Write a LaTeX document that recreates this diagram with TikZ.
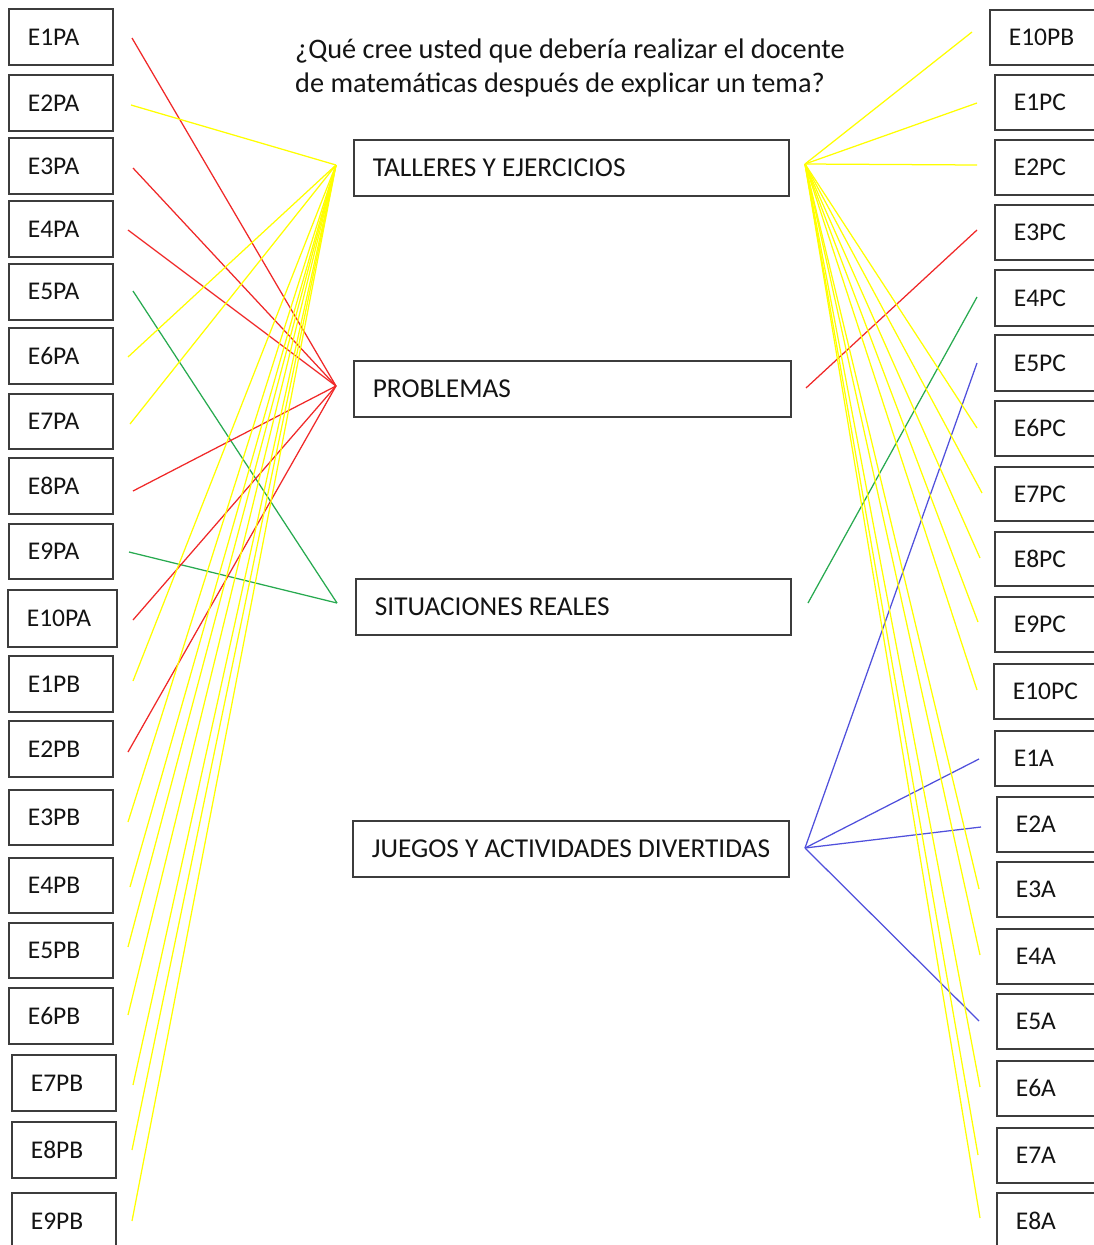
\documentclass[tikz,border=0pt]{standalone}
\usepackage{fontspec}
\setmainfont{Carlito}
\definecolor{ylw}{RGB}{255,255,0}
\definecolor{rd}{RGB}{240,40,40}
\definecolor{grn}{RGB}{40,170,80}
\definecolor{blu}{RGB}{80,80,220}
\definecolor{boxgray}{RGB}{60,60,60}
\definecolor{txt}{RGB}{20,20,20}
\begin{document}
\begin{tikzpicture}[x=1pt,y=-1pt,
  sbox/.style={draw=boxgray, line width=1.7pt, anchor=north west, inner xsep=19pt, inner ysep=0pt,
    font=\fontsize{25.5}{28}\selectfont, text=txt},
  cbox/.style={draw=boxgray, line width=1.7pt, anchor=north west, inner xsep=19pt, inner ysep=0pt,
    minimum height=56pt, font=\fontsize{27.3}{32}\selectfont, text=txt},
  ttl/.style={anchor=base west, inner sep=0pt, font=\fontsize{28.3}{34}\selectfont, text=txt},
  conn/.style={line width=1.25pt}]
\useasboundingbox (0,0) rectangle (1094,1245);
\fill[white] (0,0) rectangle (1094,1245);
\clip (0,0) rectangle (1094,1245);

% title
\node[ttl] (title1) at (295,58) {¿Qué cree usted que debería realizar el docente};
\node[ttl] (title2) at (295,92) {de matemáticas después de explicar un tema?};

% central boxes
\node[cbox] (T) at (353,139) {\makebox[397pt][l]{TALLERES Y EJERCICIOS}};
\node[cbox] (P) at (353,360) {\makebox[399pt][l]{PROBLEMAS}};
\node[cbox] (S) at (355,578) {\makebox[397pt][l]{SITUACIONES REALES}};
\node[cbox] (J) at (352,820) {\makebox[398pt][l]{JUEGOS Y ACTIVIDADES DIVERTIDAS}};

% hubs
\coordinate (hTL) at (336,165);
\coordinate (hPL) at (336,386);
\coordinate (hSL) at (337,603);
\coordinate (hTR) at (805,164);
\coordinate (hPR) at (806,388);
\coordinate (hSR) at (808,603);
\coordinate (hJR) at (805,848);

% left column
\foreach \n/\x/\t/\w/\h/\ex/\ey/\c/\hub in {
  E1PA/8/8/104/56/132/38/rd/hPL,
  E2PA/8/74/104/56/131/105/ylw/hTL,
  E3PA/8/137/104/56/133/168/rd/hPL,
  E4PA/8/200/104/56/128/230/rd/hPL,
  E5PA/8/263/104/56/133/291/grn/hSL,
  E6PA/8/327/104/56/128/357/ylw/hTL,
  E7PA/8/393/104/55/130/424/ylw/hTL,
  E8PA/8/457/104/56/133/491/rd/hPL,
  E9PA/8/523/104/55/129/552/grn/hSL,
  E10PA/7/589/109/57/133/620/rd/hPL,
  E1PB/8/655/104/56/133/681/ylw/hTL,
  E2PB/8/720/104/56/128/752/rd/hPL,
  E3PB/8/789/104/55/128/822/ylw/hTL,
  E4PB/8/857/104/55/130/887/ylw/hTL,
  E5PB/8/922/104/55/128/947/ylw/hTL,
  E6PB/8/987/104/56/128/1015/ylw/hTL,
  E7PB/11/1054/104/56/133/1085/ylw/hTL,
  E8PB/11/1121/104/56/132/1150/ylw/hTL,
  E9PB/11/1192/104/56/132/1221/ylw/hTL}{
  \node[sbox, minimum height=\h pt] (\n) at (\x,\t) {\makebox[\dimexpr\w pt-38pt\relax][l]{\n}};
  \coordinate (\n-e) at (\ex,\ey);
  \draw[conn, \c] (\n-e) -- (\hub);
}

% right column
\foreach \n/\x/\t/\h/\ex/\ey/\c/\hub in {
  E10PB/989/9/55/972/32/ylw/hTR,
  E1PC/994/74/55/977/103/ylw/hTR,
  E2PC/994/139/55/977/165/ylw/hTR,
  E3PC/994/204/55/977/230/rd/hPR,
  E4PC/994/269/56/977/297/grn/hSR,
  E5PC/994/334/56/977/363/blu/hJR,
  E6PC/994/400/55/977/428/ylw/hTR,
  E7PC/994/466/54/982/493/ylw/hTR,
  E8PC/994/531/54/980/558/ylw/hTR,
  E9PC/994/596/55/978/622/ylw/hTR,
  E10PC/993/663/55/977/690/ylw/hTR,
  E1A/994/730/55/979/759/blu/hJR,
  E2A/996/796/55/981/827/blu/hJR,
  E3A/996/861/55/979/889/ylw/hTR,
  E4A/996/928/55/980/955/ylw/hTR,
  E5A/996/993/55/979/1021/blu/hJR,
  E6A/996/1060/55/980/1087/ylw/hTR,
  E7A/996/1127/55/978/1155/ylw/hTR,
  E8A/996/1192/56/980/1218/ylw/hTR}{
  \node[sbox, minimum height=\h pt] (\n) at (\x,\t) {\makebox[\dimexpr 1110pt-\x pt-38pt\relax][l]{\n}};
  \coordinate (\n-e) at (\ex,\ey);
  \draw[conn, \c] (\n-e) -- (\hub);
}
\end{tikzpicture}
\end{document}
